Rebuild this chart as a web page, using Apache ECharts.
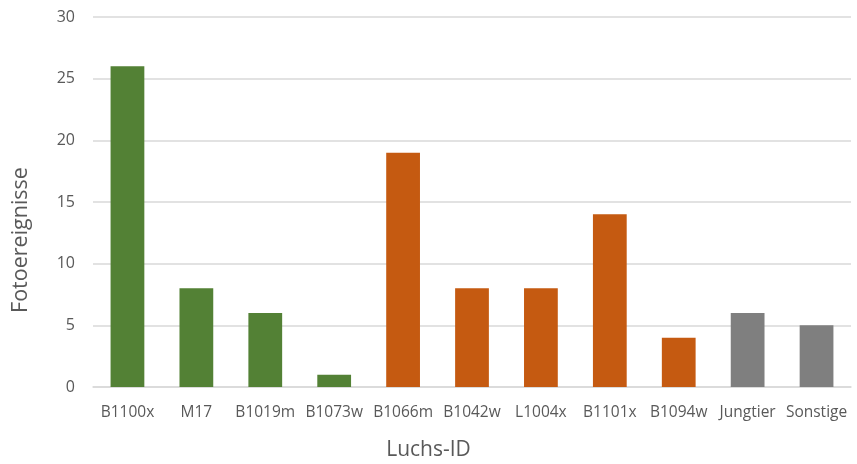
<!DOCTYPE html>
<html>
<head>
<meta charset="utf-8">
<script src="https://cdn.jsdelivr.net/npm/echarts@6/dist/echarts.min.js"></script>
<style>
html,body{margin:0;padding:0;background:#fff;}
#chart{width:857px;height:464px;}
</style>
</head>
<body>
<div id="chart"></div>
<script>
// Photo events per lynx ID
var categories = ['B1100x', 'M17', 'B1019m', 'B1073w', 'B1066m', 'B1042w', 'L1004x', 'B1101x', 'B1094w', 'Jungtier', 'Sonstige'];
var values = [26, 8, 6, 1, 19, 8, 8, 14, 4, 6, 5];
var groups = ['g', 'g', 'g', 'g', 'o', 'o', 'o', 'o', 'o', 'x', 'x'];
var groupColors = { g: '#538135', o: '#C55A11', x: '#7F7F7F' };
var xTitle = 'Luchs-ID';
var yTitle = 'Fotoereignisse';

var font = '"Open Sans", "Noto Sans", sans-serif';
var chart = echarts.init(document.getElementById('chart'));
chart.setOption({
  animation: false,
  grid: { left: 93, right: 6, top: 17, bottom: 77, outerBoundsMode: 'none', containLabel: false },
  graphic: [
    {
      type: 'text',
      left: 'center',
      top: 440,
      style: { text: xTitle, fill: '#595959', fontSize: 21, fontFamily: font }
    },
    {
      type: 'text',
      x: 10,
      y: 240,
      rotation: Math.PI / 2,
      style: { text: yTitle, fill: '#595959', fontSize: 21.5, fontFamily: font, align: 'center', verticalAlign: 'top' }
    }
  ],
  xAxis: {
    type: 'category',
    data: categories,
    axisLine: { lineStyle: { color: '#D9D9D9', width: 1.5 } },
    axisTick: { show: false },
    axisLabel: { color: '#595959', fontSize: 15.5, fontFamily: font, margin: 18, interval: 0 }
  },
  yAxis: {
    type: 'value',
    min: 0,
    max: 30,
    interval: 5,
    axisLine: { show: false },
    axisTick: { show: false },
    axisLabel: { color: '#595959', fontSize: 16, fontFamily: font, margin: 18 },
    splitLine: { lineStyle: { color: '#D9D9D9', width: 1.5 } }
  },
  series: [{
    type: 'bar',
    barWidth: '49%',
    data: values.map(function (v, i) {
      return { value: v, itemStyle: { color: groupColors[groups[i]] } };
    })
  }]
});
</script>
</body>
</html>
